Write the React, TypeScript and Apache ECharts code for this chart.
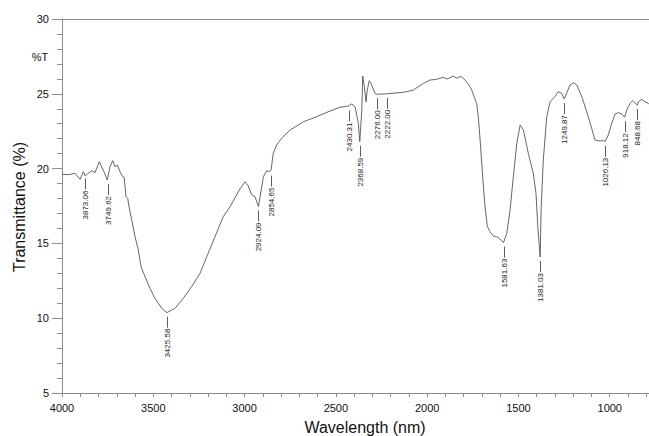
import React, { useEffect, useRef } from "react";
import * as echarts from "echarts";

// IR spectrum: [wavenumber, transmittance %]
const spectrum: [number, number][] = [
  [4000, 19.62], [3960, 19.6], [3929, 19.69], [3901, 19.28], [3883, 19.79], [3873, 19.5],
  [3861, 19.64], [3837, 19.86], [3819, 19.73], [3796, 20.46], [3770, 19.79], [3752, 19.24],
  [3737, 20.13], [3722, 20.53], [3710, 20.13], [3697, 20.24], [3682, 19.79], [3668, 19.46],
  [3660, 19.42], [3649, 18.12], [3640, 18.01], [3633, 17.45], [3618, 16.56], [3600, 15.45],
  [3582, 14.56], [3567, 13.44], [3545, 12.77], [3518, 12.0], [3491, 11.33], [3454, 10.66],
  [3426, 10.37], [3381, 10.66], [3336, 11.33], [3290, 12.11], [3244, 13.0], [3207, 14.11],
  [3162, 15.45], [3117, 16.78], [3080, 17.45], [3029, 18.57], [2998, 19.12], [2980, 18.84],
  [2961, 18.24], [2943, 18.12], [2924, 17.47], [2915, 18.12], [2897, 19.46], [2879, 19.86],
  [2864, 19.79], [2855, 19.9], [2843, 21.02], [2824, 21.58], [2797, 22.03], [2751, 22.58],
  [2678, 23.13], [2605, 23.47], [2532, 23.85], [2477, 24.1], [2432, 24.18], [2413, 24.32],
  [2395, 24.14], [2377, 23.03], [2369, 21.8], [2358, 23.92], [2353, 26.19], [2344, 25.47],
  [2335, 24.47], [2328, 25.25], [2317, 25.88], [2304, 25.59], [2286, 25.03], [2276, 24.97],
  [2222, 25.0], [2131, 25.1], [2076, 25.25], [2021, 25.7], [1984, 25.92], [1948, 25.97],
  [1912, 26.1], [1891, 25.99], [1875, 26.08], [1857, 26.19], [1838, 26.04], [1826, 26.12],
  [1811, 26.14], [1793, 25.92], [1775, 25.66], [1756, 25.25], [1743, 24.81], [1729, 24.36],
  [1720, 23.47], [1710, 21.91], [1696, 19.46], [1683, 17.45], [1670, 16.12], [1656, 15.78],
  [1638, 15.49], [1619, 15.45], [1605, 15.34], [1582, 15.05], [1564, 15.67], [1546, 17.23],
  [1528, 19.46], [1509, 21.69], [1491, 22.91], [1473, 22.58], [1446, 21.02], [1419, 19.69],
  [1404, 18.35], [1394, 16.12], [1381, 14.09], [1376, 17.23], [1364, 20.57], [1345, 23.47],
  [1327, 24.47], [1300, 24.81], [1282, 25.14], [1263, 25.03], [1250, 24.65], [1236, 25.03],
  [1218, 25.59], [1199, 25.74], [1181, 25.59], [1153, 24.81], [1126, 23.8], [1099, 22.69],
  [1081, 21.91], [1053, 21.84], [1035, 21.91], [1026, 21.8], [1008, 22.25], [989, 23.03],
  [971, 23.65], [953, 23.74], [934, 23.65], [918, 23.43], [907, 23.92], [889, 24.36],
  [874, 24.54], [849, 24.25], [843, 24.47], [825, 24.63], [807, 24.47], [789, 24.36],
  [785, 24.3],
];

const peakWavenumbers = [3873.06, 3749.62, 3425.58, 2924.09, 2854.65, 2430.31, 2368.59, 2276.0, 2222.0, 1581.63, 1381.03, 1249.87, 1026.13, 918.12, 848.68];
const peakTransmittance = [19.6, 19.24, 10.37, 17.47, 19.8, 24.15, 21.8, 24.97, 25.0, 15.05, 14.09, 24.65, 21.8, 23.43, 24.25];
const peakLabels = peakWavenumbers.map((w) => w.toFixed(2));

const xTickValues = [800, 900, 1000, 1100, 1200, 1300, 1400, 1500, 1600, 1700, 1800, 1900, 2000, 2100, 2200, 2300, 2400, 2500, 2600, 2700, 2800, 2900, 3000, 3100, 3200, 3300, 3400, 3500, 3600, 3700, 3800, 3900, 4000];
const xLabelValues = [1000, 1500, 2000, 2500, 3000, 3500, 4000];

const X_MIN = 785;
const X_MAX = 4000;
const FONT = "'Liberation Sans', Arial, sans-serif";
const AXIS_COLOR = "#8c8c8c";

export default function App() {
  const ref = useRef<HTMLDivElement>(null);
  useEffect(() => {
    if (!ref.current) return;
    const chart = echarts.init(ref.current, null, { renderer: "svg" });
    chart.setOption({
      animation: false,
      backgroundColor: "#ffffff",
      textStyle: { fontFamily: FONT },
      grid: { left: 62, right: 0, top: 19, bottom: 43 },
      xAxis: [
        {
          type: "value",
          inverse: true,
          min: X_MIN,
          max: X_MAX,
          axisLine: { show: true, lineStyle: { color: AXIS_COLOR, width: 1 } },
          axisTick: { show: true, length: 4, customValues: xTickValues, lineStyle: { color: AXIS_COLOR } },
          axisLabel: {
            customValues: xLabelValues,
            color: "#111",
            fontSize: 11,
            margin: 9,
            fontFamily: FONT,
            formatter: (v: number) => String(v),
          },
          splitLine: { show: false },
        },
        {
          type: "value",
          position: "top",
          inverse: true,
          min: X_MIN,
          max: X_MAX,
          axisLine: { show: true, lineStyle: { color: AXIS_COLOR, width: 1 } },
          axisTick: { show: false },
          axisLabel: { show: false },
          splitLine: { show: false },
        },
      ],
      yAxis: {
        type: "value",
        min: 5,
        max: 30,
        interval: 5,
        axisLine: { show: true, lineStyle: { color: AXIS_COLOR, width: 1 } },
        axisTick: { show: true, length: 10, lineStyle: { color: AXIS_COLOR } },
        minorTick: { show: true, splitNumber: 5, length: 5, lineStyle: { color: AXIS_COLOR } },
        axisLabel: { color: "#111", fontSize: 11, margin: 13, fontFamily: FONT },
        splitLine: { show: false },
      },
      graphic: [
        { type: "text", x: 40, y: 57, style: { text: "%T", fontSize: 11, fill: "#111", align: "center", verticalAlign: "middle", fontFamily: FONT } },
        { type: "text", x: 19, y: 207, rotation: Math.PI / 2, style: { text: "Transmittance (%)", fontSize: 16, fill: "#111", align: "center", verticalAlign: "middle", fontFamily: FONT } },
        { type: "text", x: 365, y: 427, style: { text: "Wavelength (nm)", fontSize: 16, fill: "#111", align: "center", verticalAlign: "middle", fontFamily: FONT } },
      ],
      series: [
        {
          type: "line",
          data: spectrum,
          showSymbol: false,
          symbol: "none",
          lineStyle: { color: "#555", width: 0.9 },
          silent: true,
        },
        {
          type: "custom",
          coordinateSystem: "cartesian2d",
          data: peakWavenumbers.map((w, i) => [w, peakTransmittance[i]]),
          silent: true,
          renderItem: (params: any, api: any) => {
            const p = api.coord([api.value(0), api.value(1)]);
            const x = Math.round(p[0]) + 0.5;
            const y = p[1];
            return {
              type: "group",
              children: [
                { type: "line", shape: { x1: x, y1: y + 4, x2: x, y2: y + 15 }, style: { stroke: "#333", lineWidth: 0.8 } },
                {
                  type: "text",
                  x: x,
                  y: y + 16,
                  rotation: Math.PI / 2,
                  style: { text: peakLabels[params.dataIndex], align: "right", verticalAlign: "middle", fontSize: 8, fill: "#222", fontFamily: FONT },
                },
              ],
            };
          },
        },
      ],
    });
    return () => chart.dispose();
  }, []);
  return <div ref={ref} style={{ width: 649, height: 436, position: "absolute", left: 0, top: 0 }} />;
}
